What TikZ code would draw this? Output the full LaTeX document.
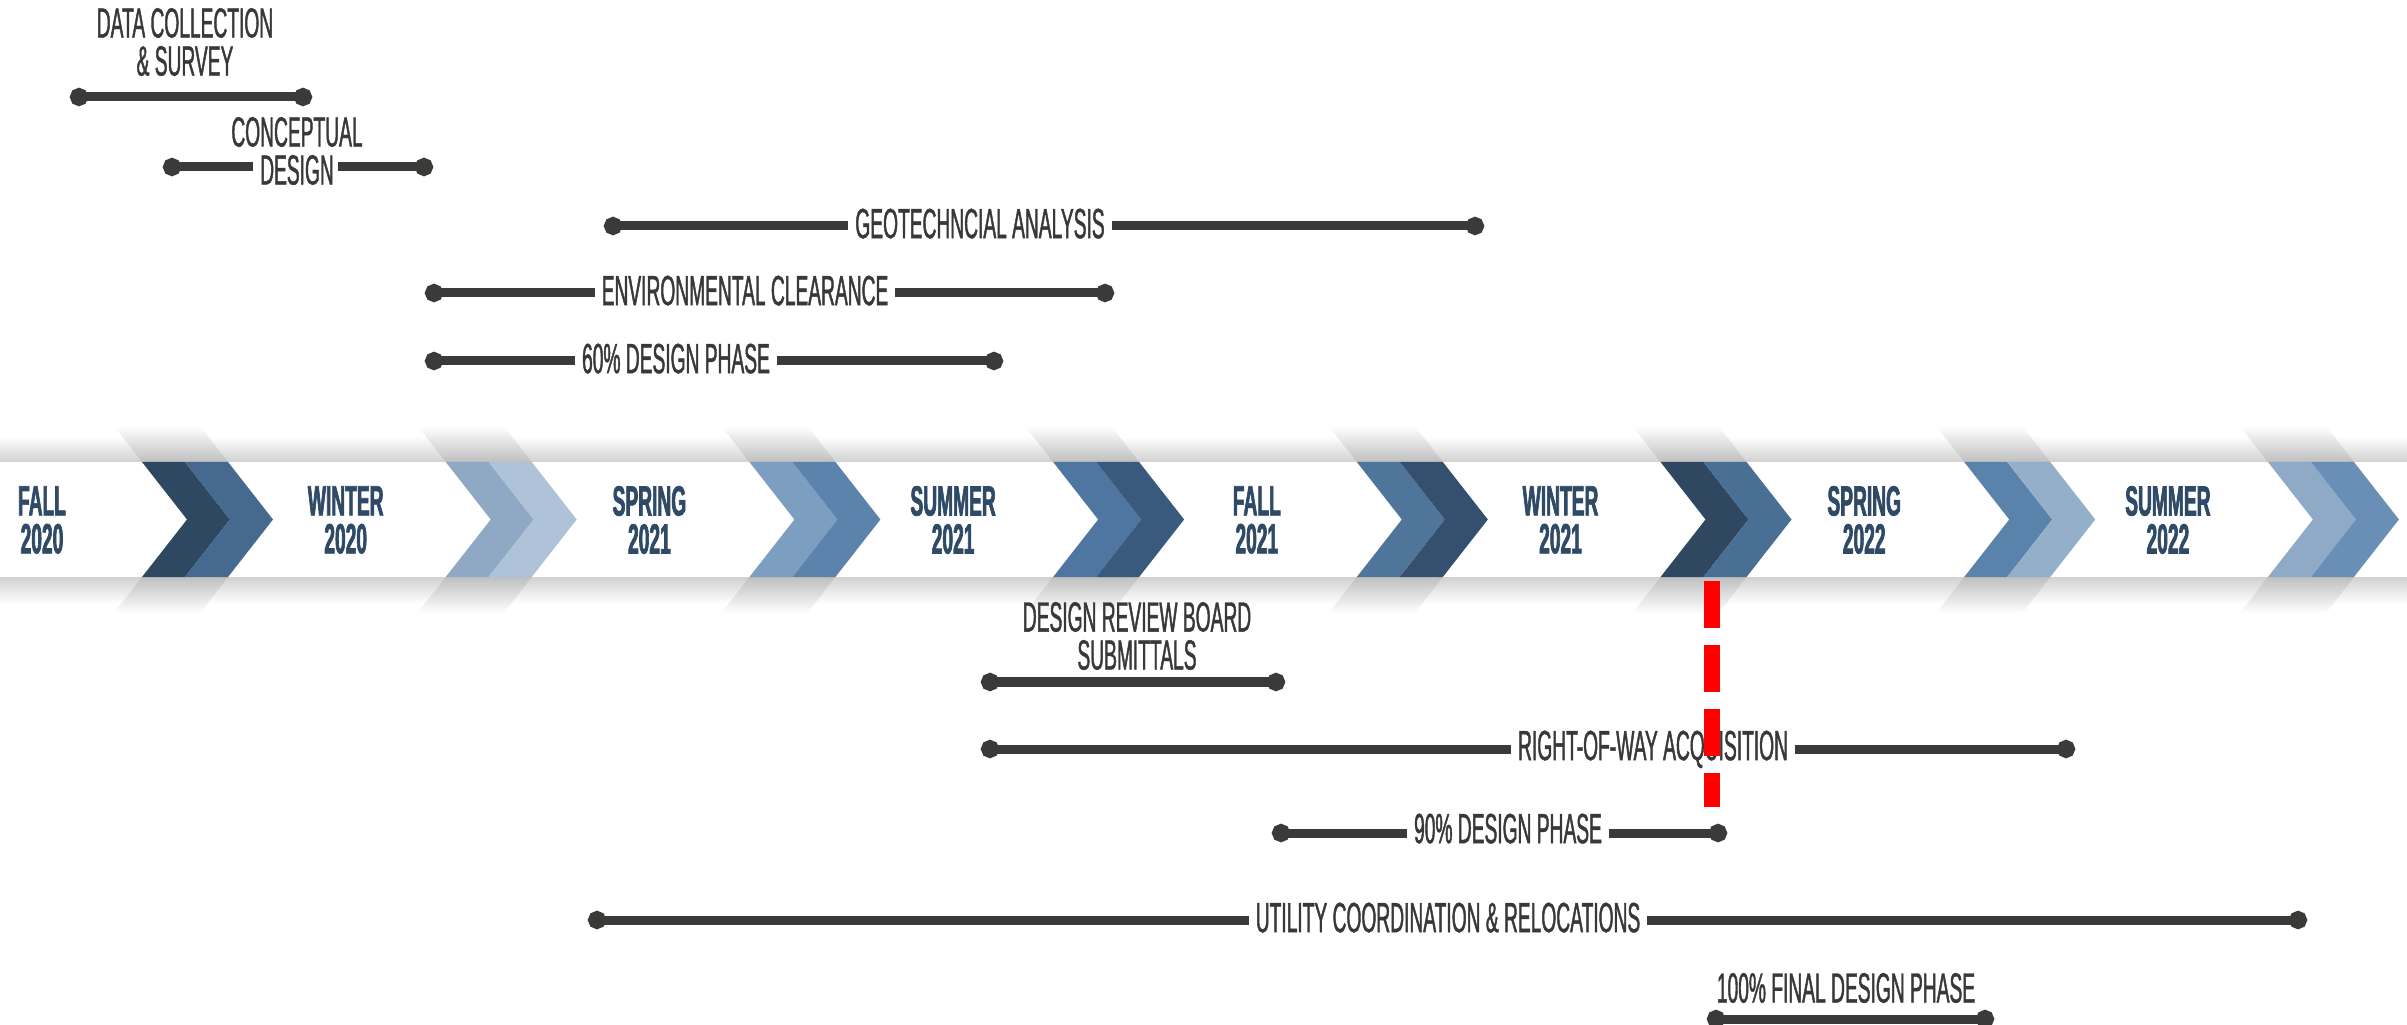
\documentclass[tikz,border=0pt]{standalone}
\usepackage{fontspec}
\setmainfont{Liberation Sans}[FakeStretch=0.455]
\usetikzlibrary{arrows.meta}
\definecolor{seasonc}{HTML}{2E4A67}
\definecolor{taskc}{HTML}{383838}
\definecolor{barc}{HTML}{3A3B39}
\definecolor{todayc}{HTML}{FF0000}
\definecolor{chA}{HTML}{2F4862}
\definecolor{chB}{HTML}{46698F}
\definecolor{chC}{HTML}{8FA9C5}
\definecolor{chD}{HTML}{AFC3D8}
\definecolor{chE}{HTML}{7C9EC1}
\definecolor{chF}{HTML}{5B83AC}
\definecolor{chG}{HTML}{4E76A0}
\definecolor{chH}{HTML}{3A5A7D}
\definecolor{chI}{HTML}{4F759B}
\definecolor{chJ}{HTML}{34506E}
\definecolor{chK}{HTML}{2F4760}
\definecolor{chL}{HTML}{4A6F94}
\definecolor{chM}{HTML}{5A83AC}
\definecolor{chN}{HTML}{94AFC9}
\definecolor{chO}{HTML}{8EAAC6}
\definecolor{chP}{HTML}{6A8FB6}

\begin{document}
\begin{tikzpicture}[x=0.01cm, y=-0.01cm,
  season/.style={font=\bfseries\fontsize{12}{10.8}\selectfont\addfontfeatures{FakeBold=1.5}, text=seasonc, align=center},
  task/.style={font=\fontsize{12}{10.8}\selectfont\addfontfeatures{FakeBold=1}, text=taskc, align=center},
  onbar/.style={task, fill=white, inner xsep=0.07cm, inner ysep=0.02cm, text height=0.69em, text depth=0pt},
  bar/.style={barc, line width=0.09cm},
  dotL/.style={{Circle[length=0.18cm]}-, shorten <=-0.09cm},
  dotR/.style={-{Circle[length=0.18cm]}, shorten >=-0.09cm},
  dots/.style={{Circle[length=0.18cm]}-{Circle[length=0.18cm]}, shorten <=-0.09cm, shorten >=-0.09cm},
  today/.style={todayc, line width=0.16cm, dash pattern=on 0.47cm off 0.17cm}]
  \fill[white] (0,0) rectangle (2407,1025);
  \useasboundingbox (0,0) rectangle (2407,1025);
  \shade[top color=white, bottom color=black!18] (0,436) rectangle (2407,462);
  \shade[top color=black!18, bottom color=white] (0,577) rectangle (2407,604);
  \foreach \i/\cl/\cr in {0/chA/chB, 1/chC/chD, 2/chE/chF, 3/chG/chH, 4/chI/chJ, 5/chK/chL, 6/chM/chN, 7/chO/chP} {
    \pgfmathsetmacro\L{142+303.7*\i}
    \shade[top color=white, bottom color=black!25] (\L,462) -- ({\L+86},462) -- ({\L+58},426) -- ({\L-28},426) -- cycle;
    \shade[top color=black!25, bottom color=white] (\L,577) -- ({\L+86},577) -- ({\L+58},613) -- ({\L-28},613) -- cycle;
    \fill[\cl] (\L,462) -- ({\L+43},462) -- ({\L+88},519.5) -- ({\L+43},577) -- (\L,577) -- ({\L+45},519.5) -- cycle;
    \fill[\cr] ({\L+43},462) -- ({\L+86},462) -- ({\L+131},519.5) -- ({\L+86},577) -- ({\L+43},577) -- ({\L+88},519.5) -- cycle;
  }
  \foreach \i/\s/\y in {0/FALL/2020, 1/WINTER/2020, 2/SPRING/2021, 3/SUMMER/2021, 4/FALL/2021, 5/WINTER/2021, 6/SPRING/2022, 7/SUMMER/2022}
    \node[season] (s\i) at ({42+303.7*\i},520) {\s\\\y};

  \coordinate (dcsA) at (79,97);
  \coordinate (dcsB) at (303,97);
  \coordinate (cdA) at (172,167);
  \coordinate (cdL) at (253,167);
  \coordinate (cdR) at (338,167);
  \coordinate (cdB) at (424,167);
  \coordinate (geoA) at (613,226);
  \coordinate (geoB) at (1475,226);
  \coordinate (envA) at (434,293);
  \coordinate (envB) at (1105,293);
  \coordinate (dsA) at (434,361);
  \coordinate (dsB) at (994,361);
  \coordinate (drbA) at (990,682);
  \coordinate (drbB) at (1276,682);
  \coordinate (rowA) at (990,749);
  \coordinate (rowB) at (2066,749);
  \coordinate (dnA) at (1281,833);
  \coordinate (dnB) at (1718,833);
  \coordinate (utlA) at (597,920);
  \coordinate (utlB) at (2298,920);
  \coordinate (fdA) at (1716,1019);
  \coordinate (fdB) at (1985,1019);
  \draw[bar, dots] (dcsA) -- (dcsB);
  \draw[bar, dotL] (cdA) -- (cdL);
  \draw[bar, dotR] (cdR) -- (cdB);
  \draw[bar, dots] (geoA) -- (geoB);
  \draw[bar, dots] (envA) -- (envB);
  \draw[bar, dots] (dsA) -- (dsB);
  \draw[bar, dots] (drbA) -- (drbB);
  \draw[bar, dots] (rowA) -- (rowB);
  \draw[bar, dots] (dnA) -- (dnB);
  \draw[bar, dots] (utlA) -- (utlB);
  \draw[bar, dots] (fdA) -- (fdB);

  \node[task] (dcs) at (185,42) {DATA COLLECTION\\\& SURVEY};
  \node[task] (cd) at (297,151) {CONCEPTUAL\\DESIGN};
  \node[onbar] (geo) at (980,226) {GEOTECHNCIAL ANALYSIS};
  \node[onbar] (env) at (745,293) {ENVIRONMENTAL CLEARANCE};
  \node[onbar] (ds) at (676,361) {60\% DESIGN PHASE};
  \node[task] (drb) at (1137,636) {DESIGN REVIEW BOARD\\SUBMITTALS};
  \node[onbar] (row) at (1653,748) {RIGHT-OF-WAY ACQUISITION};
  \node[onbar] (dn) at (1508,831) {90\% DESIGN PHASE};
  \node[onbar] (utl) at (1448,920) {UTILITY COORDINATION \& RELOCATIONS};
  \node[task] (fd) at (1846,988) {100\% FINAL DESIGN PHASE};

  \coordinate (todayA) at (1712,581);
  \coordinate (todayB) at (1712,807);
  \draw[today] (todayA) -- (todayB);
\end{tikzpicture}
\end{document}
